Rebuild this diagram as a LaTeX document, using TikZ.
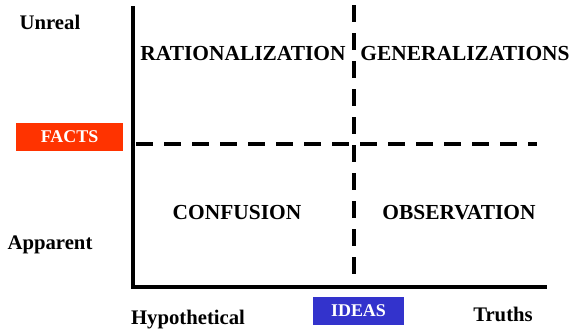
\documentclass[tikz,border=0pt]{standalone}
\usepackage{fontspec}
\setmainfont{Liberation Serif}
\definecolor{factred}{HTML}{FF3300}
\definecolor{ideablue}{HTML}{3333CC}
\begin{document}
\begin{tikzpicture}[x=1bp,y=-1bp,
  lbl/.style={font=\bfseries\fontsize{20.8}{24}\selectfont, inner sep=0pt},
  quad/.style={font=\bfseries\fontsize{21.5}{25}\selectfont, inner sep=0pt},
  tag/.style={font=\bfseries\fontsize{18}{21}\selectfont, text=white, inner sep=0pt, anchor=center},
  axis/.style={line width=4bp},
  divider/.style={line width=4bp, dash pattern=on 17bp off 11bp}]
\useasboundingbox (0,0) rectangle (571,334);
\coordinate (o) at (133,287);
\coordinate (top) at (133,6);
\coordinate (right) at (547,287);
\coordinate (vt) at (354,5);
\coordinate (vb) at (354,283);
\coordinate (hl) at (136,144);
\coordinate (hr) at (537,144);
\draw[divider] (vt) -- (vb);
\draw[divider] (hl) -- (hr);
\draw[axis] (top) -- (o) -- (right);
\fill[factred] (16,123) rectangle (123,151);
\node[tag] (facts) at (69.5,137) {FACTS};
\fill[ideablue] (313,297) rectangle (404,325);
\node[tag] (ideas) at (358.5,311) {IDEAS};
\node[lbl] (unreal) at (50,22) {Unreal};
\node[lbl] (apparent) at (50,245) {Apparent};
\node[lbl] (hypo) at (188,320) {Hypothetical};
\node[lbl] (truths) at (503,314) {Truths};
\node[quad] (rat) at (243,54) {RATIONALIZATION};
\node[quad] (gen) at (465,54) {GENERALIZATIONS};
\node[quad] (conf) at (237,213) {CONFUSION};
\node[quad] (obs) at (459,213) {OBSERVATION};
\end{tikzpicture}
\end{document}
